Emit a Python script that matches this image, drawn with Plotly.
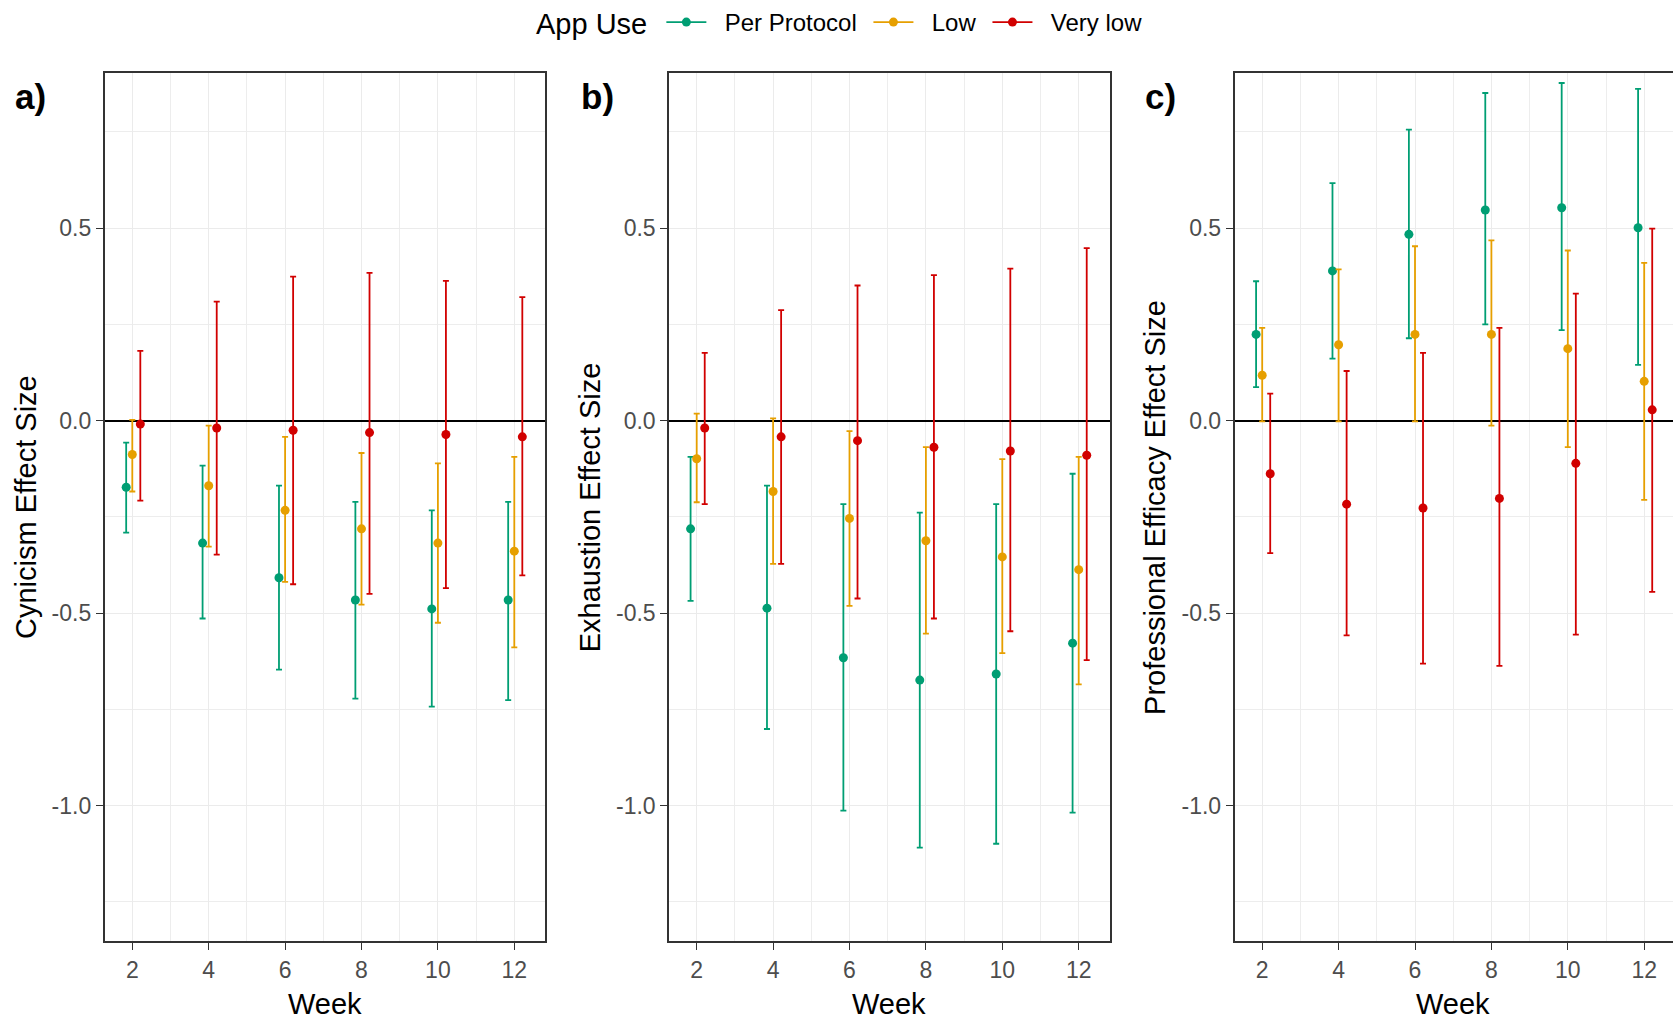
import plotly.graph_objects as go

weeks = [2, 4, 6, 8, 10, 12]
groups = ["Per Protocol", "Low", "Very low"]
colors = {"Per Protocol": "#009E73", "Low": "#E69F00", "Very low": "#D10000"}
dodge = {"Per Protocol": -0.16, "Low": 0.0, "Very low": 0.21}

# Panel a) Cynicism
cyn_est = {"Per Protocol": [-0.173, -0.318, -0.408, -0.466, -0.489, -0.466],
           "Low": [-0.088, -0.169, -0.233, -0.281, -0.318, -0.339],
           "Very low": [-0.009, -0.019, -0.025, -0.031, -0.036, -0.042]}
cyn_lo = {"Per Protocol": [-0.291, -0.514, -0.647, -0.722, -0.743, -0.726],
          "Low": [-0.184, -0.327, -0.419, -0.478, -0.525, -0.589],
          "Very low": [-0.208, -0.348, -0.425, -0.450, -0.435, -0.402]}
cyn_hi = {"Per Protocol": [-0.057, -0.117, -0.169, -0.211, -0.233, -0.211],
          "Low": [0.002, -0.013, -0.042, -0.084, -0.111, -0.094],
          "Very low": [0.181, 0.309, 0.374, 0.384, 0.363, 0.321]}

# Panel b) Exhaustion
exh_est = {"Per Protocol": [-0.281, -0.487, -0.616, -0.674, -0.658, -0.578],
           "Low": [-0.099, -0.184, -0.254, -0.312, -0.354, -0.387],
           "Very low": [-0.019, -0.042, -0.052, -0.069, -0.079, -0.090]}
exh_lo = {"Per Protocol": [-0.468, -0.801, -1.013, -1.109, -1.099, -1.018],
          "Low": [-0.212, -0.372, -0.481, -0.553, -0.604, -0.685],
          "Very low": [-0.217, -0.372, -0.462, -0.514, -0.547, -0.622]}
exh_hi = {"Per Protocol": [-0.094, -0.169, -0.217, -0.239, -0.217, -0.138],
          "Low": [0.018, 0.006, -0.027, -0.069, -0.100, -0.094],
          "Very low": [0.176, 0.287, 0.351, 0.378, 0.395, 0.448]}

# Panel c) Professional Efficacy
eff_est = {"Per Protocol": [0.224, 0.389, 0.484, 0.547, 0.553, 0.501],
           "Low": [0.118, 0.197, 0.224, 0.224, 0.187, 0.102],
           "Very low": [-0.138, -0.217, -0.227, -0.202, -0.111, 0.028]}
eff_lo = {"Per Protocol": [0.087, 0.161, 0.214, 0.250, 0.235, 0.145],
          "Low": [-0.002, -0.002, -0.002, -0.013, -0.069, -0.206],
          "Very low": [-0.344, -0.558, -0.631, -0.637, -0.556, -0.445]}
eff_hi = {"Per Protocol": [0.362, 0.617, 0.756, 0.851, 0.877, 0.862],
          "Low": [0.241, 0.393, 0.453, 0.468, 0.442, 0.410],
          "Very low": [0.070, 0.129, 0.176, 0.241, 0.330, 0.499]}

panels = [
    ("a)", "Cynicism Effect Size", cyn_est, cyn_lo, cyn_hi),
    ("b)", "Exhaustion Effect Size", exh_est, exh_lo, exh_hi),
    ("c)", "Professional Efficacy Effect Size", eff_est, eff_lo, eff_hi),
]

W, H = 1673, 1021


def fx(p):
    return p / W


def fy(p):
    return (H - p) / H


xdom = [(fx(104.6), fx(545.2)), (fx(669.0), fx(1109.7)), (fx(1234.5), 1.0)]
ydom = (fy(941.1), fy(70.4))
px_per_week = 38.2
x_left = 1.275
yrange = [-1.3525, 0.9025]

fig = go.Figure()
FONT = "Liberation Sans, Arial, sans-serif"

for i, (tag, ytitle, est, lo, hi) in enumerate(panels):
    ax = "" if i == 0 else str(i + 1)
    for g in groups:
        xs = [w + dodge[g] for w in weeks]
        plus = [h - e for h, e in zip(hi[g], est[g])]
        minus = [e - l for e, l in zip(est[g], lo[g])]
        fig.add_trace(go.Scatter(
            x=xs, y=est[g], mode="markers", showlegend=False,
            marker=dict(color=colors[g], size=9),
            error_y=dict(type="data", symmetric=False, array=plus, arrayminus=minus,
                         color=colors[g], thickness=1.8, width=3),
            xaxis="x" + ax, yaxis="y" + ax, name=g))
    d0, d1 = xdom[i]
    width_px = (d1 - d0) * W
    xr = [x_left, x_left + width_px / px_per_week]
    fig.layout["xaxis" + ax] = dict(
        domain=[d0, d1], range=xr, anchor="y" + ax,
        tickvals=weeks, ticktext=[str(w) for w in weeks],
        showgrid=True, gridcolor="#EBEBEB", gridwidth=1.4,
        minor=dict(tickvals=[3, 5, 7, 9, 11], showgrid=True, gridcolor="#EDEDED", gridwidth=1),
        showline=True, linecolor="#333333", linewidth=1.5, mirror=True,
        ticks="outside", ticklen=7, tickwidth=1.3, tickcolor="#333333",
        tickfont=dict(family=FONT, size=23, color="#4D4D4D"),
        zeroline=False, fixedrange=True)
    fig.layout["yaxis" + ax] = dict(
        domain=list(ydom), range=yrange, anchor="x" + ax,
        tickvals=[-1.0, -0.5, 0.0, 0.5], ticktext=["-1.0", "-0.5", "0.0", "0.5"],
        showgrid=True, gridcolor="#EBEBEB", gridwidth=1.4,
        minor=dict(tickvals=[-1.25, -0.75, -0.25, 0.25, 0.75], showgrid=True,
                   gridcolor="#EDEDED", gridwidth=1),
        showline=True, linecolor="#333333", linewidth=1.5, mirror=(i < 2),
        ticks="outside", ticklen=7, tickwidth=1.3, tickcolor="#333333",
        tickfont=dict(family=FONT, size=23, color="#4D4D4D"),
        zeroline=True, zerolinecolor="#000000", zerolinewidth=1.6, fixedrange=True)

# legend-only traces
NB = "\u00a0"
for g in groups:
    fig.add_trace(go.Scatter(x=[None], y=[None], mode="lines+markers", name=NB * 2 + g + NB,
                             line=dict(color=colors[g], width=1.8),
                             marker=dict(color=colors[g], size=9)))

ytitle_x = [26.7, 590.0, 1155.6]
xtitle_x = [325.0, 889.4, 1453.0]
tag_x = [12.8, 579.0, 1143.0]
annotations = []
for i, (tag, ytitle, *_rest) in enumerate(panels):
    annotations.append(dict(text=ytitle, x=fx(ytitle_x[i]), y=fy(505.8), xref="paper", yref="paper",
                            textangle=-90, showarrow=False, xanchor="center", yanchor="middle",
                            font=dict(family=FONT, size=29, color="#000000")))
    annotations.append(dict(text="Week", x=fx(xtitle_x[i]), y=fy(1004.0), xref="paper", yref="paper",
                            showarrow=False, xanchor="center", yanchor="middle",
                            font=dict(family=FONT, size=29, color="#000000")))
    annotations.append(dict(text="<b>" + tag + "</b>", x=fx(tag_x[i]), y=fy(94.0), xref="paper", yref="paper",
                            showarrow=False, xanchor="left", yanchor="middle",
                            font=dict(family=FONT, size=35, color="#000000")))
# visible legend title (the legend's own title holds blank space of the same width)
annotations.append(dict(text="App Use", x=fx(533.5), y=fy(21.0), xref="paper", yref="paper",
                        showarrow=False, xanchor="left", yanchor="middle",
                        font=dict(family=FONT, size=29, color="#000000")))

fig.update_layout(
    width=W, height=H, margin=dict(l=0, r=0, t=0, b=0),
    paper_bgcolor="white", plot_bgcolor="white",
    annotations=annotations,
    legend=dict(orientation="h", x=fx(842.0), xanchor="center", y=fy(21.0), yanchor="middle",
                title=dict(text=NB * 15, side="left",
                           font=dict(family=FONT, size=29, color="#000000")),
                font=dict(family=FONT, size=24, color="#000000"),
                itemwidth=40, bgcolor="rgba(0,0,0,0)"),
)

fig.write_html("out.html", config={"displayModeBar": False},
               post_script="document.body.style.margin='0px';")
